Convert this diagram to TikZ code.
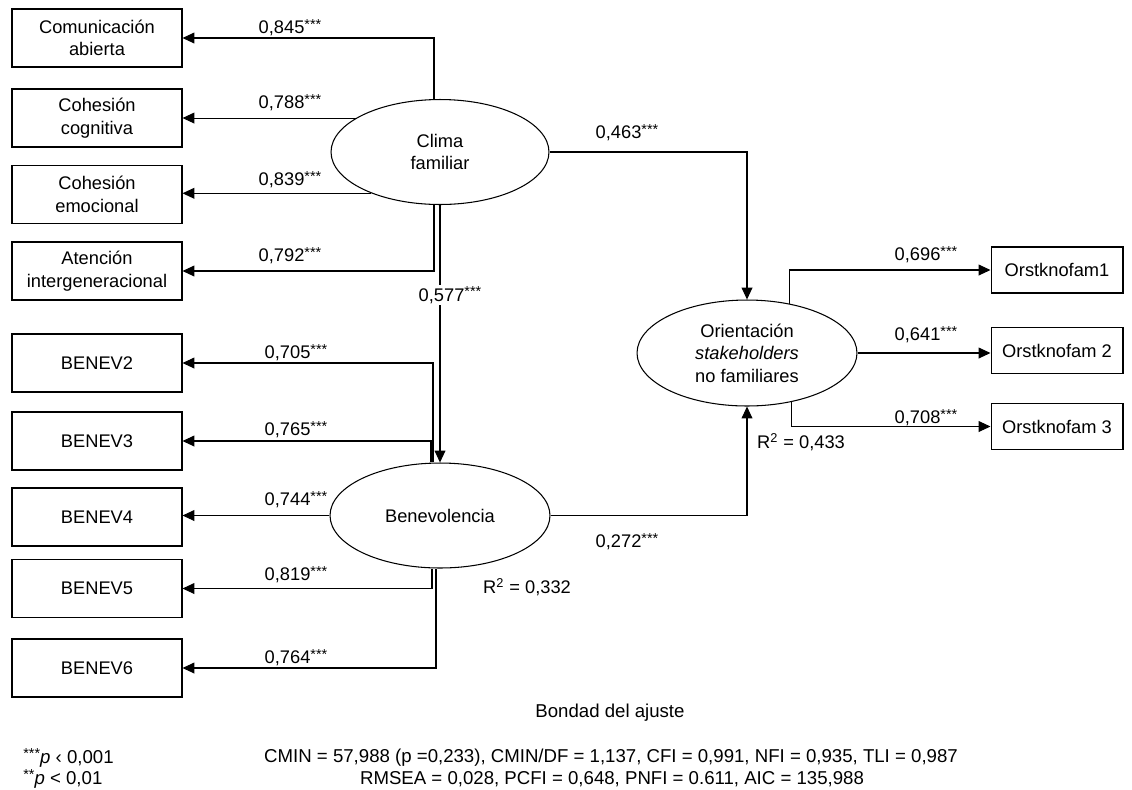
\documentclass[tikz,border=0pt]{standalone}
\usepackage{fontspec}
\setmainfont{Liberation Sans}
\usetikzlibrary{shapes.geometric,arrows.meta,positioning,calc}
\newcommand{\stars}[1]{\raisebox{0.45ex}{\fontsize{8.2}{9}\selectfont#1}}
\tikzset{
  box style/.style={rectangle, draw, line width=0.6pt, minimum width=3.4cm,
    minimum height=1.16cm, inner sep=0pt, align=center,
    font=\fontsize{10.4}{12.8}\selectfont},
  obs style/.style={box style, minimum width=2.64cm, minimum height=0.92cm},
  lat style/.style={ellipse, draw, line width=0.6pt, minimum width=4.36cm,
    minimum height=2.1cm, inner sep=0pt, align=center,
    font=\fontsize{10.4}{12.8}\selectfont},
  arr style/.style={-{Triangle[length=6.8pt, width=6.2pt]}, line width=0.6pt},
  num style/.style={inner sep=1pt, font=\fontsize{10.4}{12.8}\selectfont},
  fit style/.style={inner sep=0pt, font=\fontsize{10.6}{12.5}\selectfont}
}
\begin{document}
\begin{tikzpicture}[x=0.02cm, y=-0.02cm]
\useasboundingbox (0,0) rectangle (1132,789);
% indicators of Clima familiar
\node[box style] (com)  at (97,38)    {Comunicación\\abierta};
\node[box style] (cog)  at (97,118)   {Cohesión\\cognitiva};
\node[box style] (emo)  at (97,194.5) {Cohesión\\emocional};
\node[box style] (ate)  at (97,271)   {Atención\\intergeneracional};
% indicators of Benevolencia
\node[box style] (ben2) at (97,363)   {BENEV2};
\node[box style] (ben3) at (97,441)   {BENEV3};
\node[box style] (ben4) at (97,517)   {BENEV4};
\node[box style] (ben5) at (97,588.5) {BENEV5};
\node[box style] (ben6) at (97,668)   {BENEV6};
% latent variables
\node[lat style] (clima)  at (440,152)   {Clima\\familiar};
\node[lat style, minimum width=4.4cm] (benev) at (440,515.5) {Benevolencia};
\node[lat style, minimum width=4.4cm, minimum height=2.12cm] (orient) at (747,353)
  {Orientación\\\textit{stakeholders}\\no familiares};
% indicators of Orientacion
\node[obs style] (ors1) at (1057,270)   {Orstknofam1};
\node[obs style] (ors2) at (1057,350.5) {Orstknofam 2};
\node[obs style] (ors3) at (1057,426.5) {Orstknofam 3};

% loadings
\draw[arr style] ([xshift=-0.12cm]clima.north) |- (com);
\draw[arr style] (clima.158) -- (clima.158 -| cog.east);
\draw[arr style] (clima.211) -- (clima.211 -| emo.east);
\draw[arr style] ([xshift=-0.12cm]clima.south) |- (ate);
\draw[arr style] ([xshift=-0.14cm]benev.north) |- (ben2);
\draw[arr style] ([xshift=-0.18cm]benev.north) |- (ben3);
\draw[arr style] (benev.west) -- (benev.west -| ben4.east);
\draw[arr style] ([xshift=-0.16cm]benev.south) |- (ben5);
\draw[arr style] ([xshift=-0.08cm]benev.south) |- (ben6);
\draw[arr style] (orient.49) |- (ors1);
\draw[arr style] (orient.east) -- (orient.east -| ors2.west);
\draw[arr style] (orient.312) |- (ors3);
% structural paths
\draw[arr style] (clima.south) -- node[num style, fill=white, pos=0.35, xshift=0.2cm] (p577)
  {0,577\stars{***}} (benev.north);
\draw[arr style] (clima.east) -| (orient.north);
\draw[arr style] (benev.east) -| (orient.south);

% coefficient labels
\node[num style] (l845) at (290,28)  {0,845\stars{***}};
\node[num style] (l788) at (290,103) {0,788\stars{***}};
\node[num style] (l839) at (290,180) {0,839\stars{***}};
\node[num style] (l792) at (290,256) {0,792\stars{***}};
\node[num style] (l705) at (296,353) {0,705\stars{***}};
\node[num style] (l765) at (296,430) {0,765\stars{***}};
\node[num style] (l744) at (296,500) {0,744\stars{***}};
\node[num style] (l819) at (296,575) {0,819\stars{***}};
\node[num style] (l764) at (296,658) {0,764\stars{***}};
\node[num style] (l463) at (627,133) {0,463\stars{***}};
\node[num style] (l272) at (627,542) {0,272\stars{***}};
\node[num style] (l696) at (926,255) {0,696\stars{***}};
\node[num style] (l641) at (926,335) {0,641\stars{***}};
\node[num style] (l708) at (926,418) {0,708\stars{***}};
\node[num style] (r332) at (527,587) {R\textsuperscript{2} = 0,332};
\node[num style] (r433) at (801,442) {R\textsuperscript{2} = 0,433};

% goodness of fit
\node[fit style] (bondad) at (610,713) {Bondad del ajuste};
\node[fit style] (fit1) at (611,758)
  {CMIN = 57,988 (p =0,233), CMIN/DF = 1,137, CFI = 0,991, NFI = 0,935, TLI = 0,987};
\node[fit style] (fit2) at (612,779)
  {RMSEA = 0,028, PCFI = 0,648, PNFI = 0.611, AIC = 135,988};
\node[fit style, anchor=west] (sig1) at (23,758) {\stars{***}\textit{p} ‹ 0,001};
\node[fit style, anchor=west] (sig2) at (23,779) {\stars{**}\textit{p} < 0,01};
\end{tikzpicture}
\end{document}
